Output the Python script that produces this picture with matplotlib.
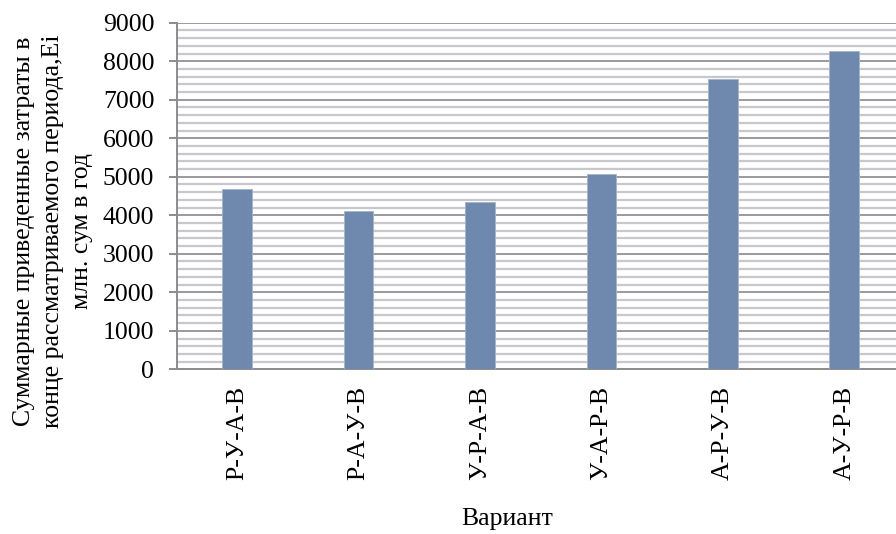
import matplotlib
matplotlib.use("Agg")
import matplotlib.pyplot as plt
from matplotlib.ticker import MultipleLocator

# Total reduced costs per route variant (mln. sum per year)
variants = ["Р-У-А-В", "Р-А-У-В", "У-Р-А-В", "У-А-Р-В", "А-Р-У-В", "А-У-Р-В"]
costs = [4680, 4110, 4350, 5060, 7540, 8260]

plt.rcParams["font.family"] = ["Liberation Serif", "DejaVu Serif"]
FS = 18.5

fig = plt.figure(figsize=(8.96, 5.34), dpi=100)
ax = fig.add_axes([0.197, 0.3084, 0.813, 0.649])

ax.bar(range(len(variants)), costs, width=0.245, color="#6f89ae",
       edgecolor="#a3b4cc", linewidth=0.6, zorder=3)

ax.set_xlim(-0.5, len(variants) - 0.5)
ax.set_ylim(0, 9000)
ax.yaxis.set_major_locator(MultipleLocator(1000))
ax.yaxis.set_minor_locator(MultipleLocator(200))

ax.grid(which="major", axis="y", color="#9a9a9e", linewidth=1.4)
ax.grid(which="minor", axis="y", color="#c8c8cc", linewidth=1.6)
ax.set_axisbelow(True)

for side in ("top", "right"):
    ax.spines[side].set_visible(False)
for side in ("left", "bottom"):
    ax.spines[side].set_color("#8c8c8c")
    ax.spines[side].set_linewidth(1.4)

ax.set_xticks(range(len(variants)))
ax.set_xticklabels(variants, rotation=90, fontsize=FS)
ax.tick_params(axis="x", length=0, pad=12)
ax.tick_params(axis="y", which="major", direction="out", length=6,
               width=1.4, color="#8c8c8c", labelsize=FS, pad=10)
ax.tick_params(axis="y", which="minor", length=0)

fig.text(0.059, 1 - 231 / 534,
         "Суммарные приведенные затраты в\nконце рассматриваемого периода,Ei\nмлн. сум в год",
         rotation=90, ha="center", va="center", multialignment="center",
         fontsize=FS, linespacing=1.4)
fig.text(507 / 896, 1 - 519 / 534, "Вариант", ha="center", va="center", fontsize=FS)

fig.savefig("out.png", dpi=100)
